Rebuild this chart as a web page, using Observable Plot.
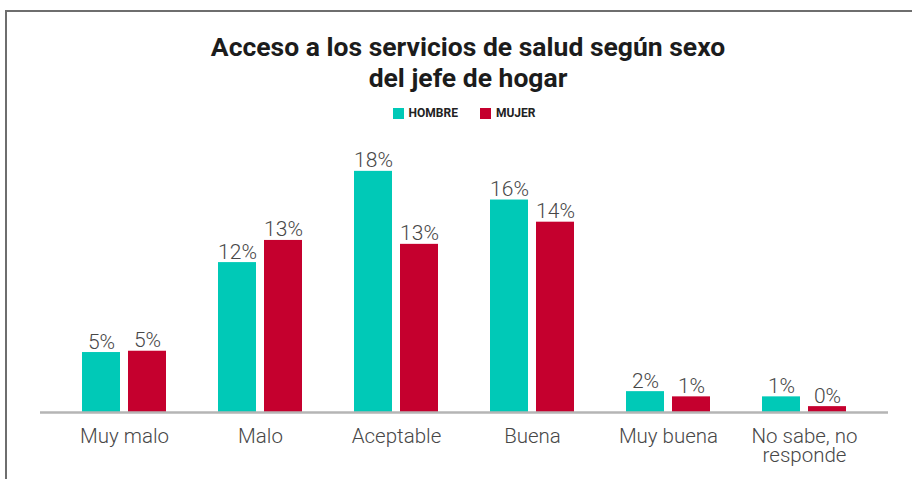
<!DOCTYPE html>
<html>
<head>
<meta charset="utf-8">
<script src="https://cdn.jsdelivr.net/npm/d3@7"></script>
<script src="https://cdn.jsdelivr.net/npm/@observablehq/plot@0.6"></script>
<style>
  html, body { margin: 0; padding: 0; background: #fff; }
  #wrap { position: relative; width: 912px; height: 479px; overflow: hidden; font-family: Roboto, sans-serif; }
  #frame { position: absolute; left: 5px; top: 10px; width: 1000px; height: 1000px;
           border-top: 2px solid #6e6e6e; border-left: 2px solid #6e6e6e; }
  #title { position: absolute; left: 0; top: 31px; width: 936px; text-align: center;
           font-size: 26.5px; font-weight: 700; line-height: 31px; color: #1c1c1c; }
  #legend { position: absolute; left: 0; top: 106px; width: 928px; text-align: center;
            font-size: 12px; font-weight: 700; color: #222; }
  #legend span.item { display: inline-flex; align-items: center; margin: 0 11px; }
  #legend span.sw { display: inline-block; width: 11px; height: 11px; margin-right: 5px; }
  #chart { position: absolute; left: 0; top: 130px; }
</style>
</head>
<body>
<div id="wrap">
  <div id="frame"></div>
  <div id="title">Acceso a los servicios de salud según sexo<br>del jefe de hogar</div>
  <div id="legend"></div>
  <div id="chart"></div>
</div>
<script>
const categories = ["Muy malo", "Malo", "Aceptable", "Buena", "Muy buena", "No sabe, no responde"];
const tickLabels = ["Muy malo", "Malo", "Aceptable", "Buena", "Muy buena", "No sabe, no\nresponde"];
const sexes = ["HOMBRE", "MUJER"];
const colors = ["#00c9b7", "#c5002e"];
const hombre = [4.6, 11.5, 18.5, 16.3, 1.6, 1.2];
const mujer = [4.7, 13.2, 12.9, 14.6, 1.2, 0.45];
const hombreLabels = ["5%", "12%", "18%", "16%", "2%", "1%"];
const mujerLabels = ["5%", "13%", "13%", "14%", "1%", "0%"];

const rows = categories.flatMap((c, i) => [
  {cat: c, sex: sexes[0], value: hombre[i], label: hombreLabels[i]},
  {cat: c, sex: sexes[1], value: mujer[i], label: mujerLabels[i]}
]);
const H = rows.filter(d => d.sex === sexes[0]);
const M = rows.filter(d => d.sex === sexes[1]);

// legend
const lg = document.getElementById("legend");
sexes.forEach((s, i) => {
  const it = document.createElement("span");
  it.className = "item";
  it.innerHTML = `<span class="sw" style="background:${colors[i]}"></span>${s}`;
  lg.appendChild(it);
});

const tickMap = new Map(categories.map((c, i) => [c, tickLabels[i]]));

const chart = Plot.plot({
  width: 912,
  height: 349,
  marginTop: 20,
  marginBottom: 67,
  marginLeft: 40,
  marginRight: 24,
  style: {fontFamily: "Roboto, sans-serif", background: "transparent"},
  x: {domain: categories, paddingInner: 0.384, paddingOuter: 0.303, label: null},
  y: {domain: [0, 20.1], axis: null},
  color: {domain: sexes, range: colors},
  marks: [
    Plot.barY(H, {x: "cat", y: "value", fill: "sex", insetRight: 46}),
    Plot.barY(M, {x: "cat", y: "value", fill: "sex", insetLeft: 46}),
    Plot.ruleY([0], {stroke: "#b5b5b5", strokeWidth: 2.5}),
    Plot.text(H, {x: "cat", y: "value", text: "label", dx: -23, dy: -4, lineAnchor: "bottom",
                  fontSize: 21, fill: "#474747", fontWeight: 300}),
    Plot.text(M, {x: "cat", y: "value", text: "label", dx: 23, dy: -4, lineAnchor: "bottom",
                  fontSize: 21, fill: "#474747", fontWeight: 300}),
    Plot.axisX({tickSize: 0, tickPadding: 17, fontSize: 20.5, lineHeight: 0.92, fill: "#474747",
                fontWeight: 300, label: null, tickFormat: d => tickMap.get(d)})
  ]
});
document.getElementById("chart").appendChild(chart);
</script>
</body>
</html>
